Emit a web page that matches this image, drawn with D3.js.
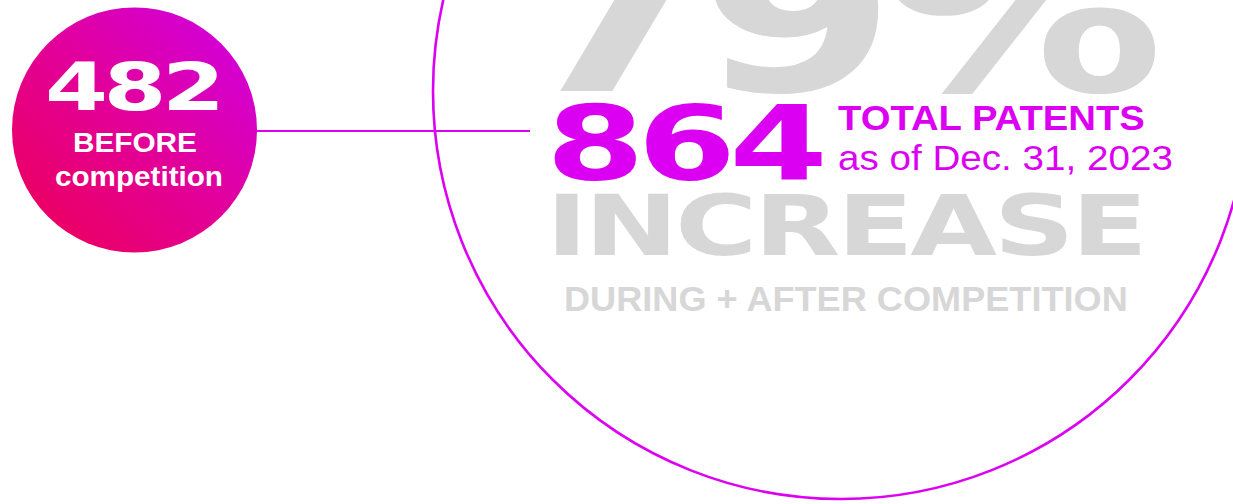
<!DOCTYPE html>
<html>
<head>
<meta charset="utf-8">
<script src="https://cdn.jsdelivr.net/npm/d3@7"></script>
<style>
  html, body { margin: 0; padding: 0; background: #fff; overflow: hidden; }
  svg { display: block; }
</style>
</head>
<body>
<svg id="chart"></svg>
<script>
// values
const beforeCount = 482
const totalCount = 864
const increasePct = 79
const beforeLabels = ['BEFORE', 'competition']
const totalLabels = ['TOTAL PATENTS', 'as of Dec. 31, 2023']
const increaseLabels = ['INCREASE', 'DURING + AFTER COMPETITION']

const width = 1233, height = 504
const magenta = '#dc00f2'
const grey = '#d7d7d7'

const svg = d3.select('#chart')
    .attr('width', width)
    .attr('height', height)

// gradient for the small bubble
const grad = svg.append('defs').append('linearGradient')
    .attr('id', 'bubble')
    .attr('x1', '0.1').attr('y1', '0.9')
    .attr('x2', '0.9').attr('y2', '0.1')
grad.append('stop').attr('offset', '0%').attr('stop-color', '#ec0060')
grad.append('stop').attr('offset', '55%').attr('stop-color', '#e1009e')
grad.append('stop').attr('offset', '100%').attr('stop-color', '#d200d8')

const small = {cx: 134.5, cy: 130, r: 122.5}
const big = {cx: 841, cy: 91, r: 408}

// connector
svg.append('line')
    .attr('x1', small.cx + small.r - 2)
    .attr('x2', 530)
    .attr('y1', 131).attr('y2', 131)
    .attr('stroke', magenta)
    .attr('stroke-width', 2)

// big outline circle
svg.append('circle')
    .attr('cx', big.cx).attr('cy', big.cy).attr('r', big.r)
    .attr('fill', 'none')
    .attr('stroke', magenta)
    .attr('stroke-width', 2.6)

// text stretched horizontally to a given width (wide / condensed faces)
const txt = (x, y, s, opts) => {
    const t = svg.append('text')
        .attr('x', 0).attr('y', 0)
        .attr('font-family', opts.font)
        .attr('font-weight', opts.weight || 'bold')
        .attr('font-size', opts.size)
        .attr('fill', opts.fill)
        .style('letter-spacing', opts.ls || 0)
        .text(s)
    // measure the text width: first char start to last char end
    const n = t.node()
    const first = n.getExtentOfChar(0)
    const last = n.getExtentOfChar(s.length - 1)
    const x0 = first.x
    const w = last.x + last.width - x0 - (opts.ls ? parseFloat(opts.ls) * opts.size : 0)
    const sx = opts.len / w
    t.attr('transform', `translate(${x - x0 * sx},${y}) scale(${sx},1)`)
    return t
}

txt(518, 91, d3.format('d')(increasePct) + '%', {font: 'DejaVu Sans', size: 218, fill: grey, len: 646, ls: '-0.06em'})
txt(546, 255, increaseLabels[0], {font: 'DejaVu Sans', size: 83, fill: grey, len: 602, ls: '-0.03em'})
txt(564, 311, increaseLabels[1], {font: 'Liberation Sans', size: 36, fill: grey, len: 564})

// total
txt(546, 180, d3.format('d')(totalCount), {font: 'DejaVu Sans', size: 103, fill: magenta, len: 282, ls: '-0.05em'})
txt(838, 130, totalLabels[0], {font: 'Liberation Sans', size: 35, fill: magenta, len: 307})
txt(838, 170, totalLabels[1], {font: 'Liberation Sans', weight: 'normal', size: 35, fill: magenta, len: 335})

// small bubble
svg.append('circle')
    .attr('cx', small.cx).attr('cy', small.cy).attr('r', small.r)
    .attr('fill', 'url(#bubble)')

txt(45, 110, d3.format('d')(beforeCount), {font: 'DejaVu Sans', size: 65, fill: '#fff', len: 180, ls: '-0.05em'})
txt(73, 152, beforeLabels[0], {font: 'Liberation Sans', size: 28, fill: '#fff', len: 124})
txt(55, 186, beforeLabels[1], {font: 'Liberation Sans', size: 28, fill: '#fff', len: 168})
</script>
</body>
</html>
